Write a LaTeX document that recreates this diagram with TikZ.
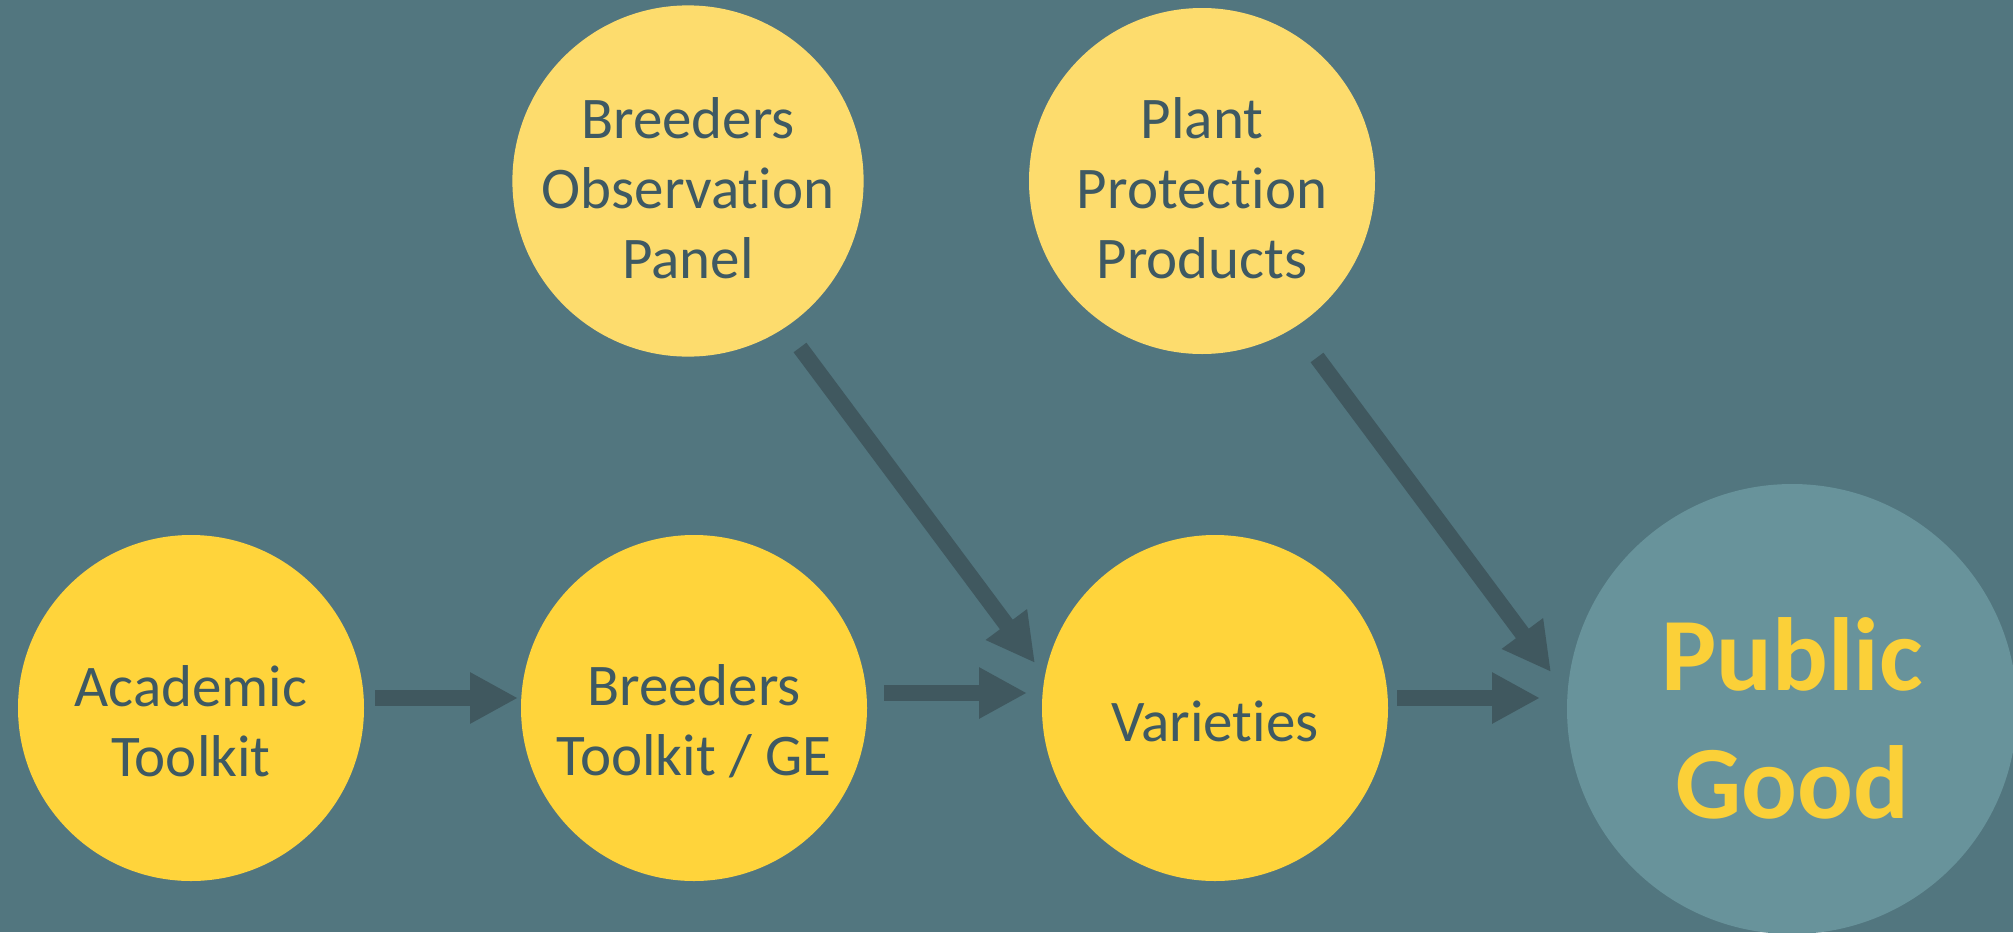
\documentclass[tikz,border=0pt]{standalone}
\usepackage{fontspec}
\setmainfont{Carlito}[Ligatures=NoCommon]
\usetikzlibrary{arrows.meta}
\definecolor{slate}{HTML}{52767F}
\definecolor{ink}{HTML}{3E5963}
\definecolor{shaft}{HTML}{40585F}
\definecolor{paleyellow}{HTML}{FDDC6D}
\definecolor{sunyellow}{HTML}{FFD43B}
\definecolor{goalteal}{HTML}{68939B}
\definecolor{goaltext}{HTML}{FBD038}
% raise the first line so the text sits a little lower in its circle
\newcommand{\lift}[1]{\rule{0pt}{#1}}
\begin{document}
\begin{tikzpicture}[x=0.5pt,y=-0.5pt,
	>={Triangle[length=24pt,width=24pt]},
	blob/.style={circle,minimum size=173pt,inner sep=0pt,align=center,
		text=ink,font=\fontsize{29.5}{35}\selectfont},
	input/.style={blob,fill=paleyellow},
	stage/.style={blob,fill=sunyellow},
	goal/.style={circle,minimum size=225pt,inner sep=0pt,align=center,
		fill=goalteal,text=goaltext,
		font=\fontsize{52}{64}\selectfont\bfseries},
	flow/.style={->,line width=8pt,color=shaft}]
\clip (0,0) rectangle (2013,932);
\fill[slate] (0,0) rectangle (2013,932);
% inputs on top
\node[input] (bop) at (688,181) {\lift{28pt}Breeders\\Observation\\Panel};
\node[input] (ppp) at (1202,181) {\lift{28pt}Plant\\Protection\\Products};
% main chain
\node[stage] (acad) at (191,708) {\lift{34pt}Academic\\Toolkit};
\node[stage] (btk) at (694,708) {\lift{34pt}Breeders\\Toolkit / GE};
\node[stage] (var) at (1215,708) {\lift{34pt}Varieties};
\node[goal] (pg) at (1792,709) {\lift{46pt}Public\\Good};
% arrows
\draw[flow] ([shift={(184,-10)}]acad.center)--([shift={(-176,-10)}]btk.center);
\draw[flow] ([shift={(190,-15)}]btk.center)--([shift={(-188,-15)}]var.center);
\draw[flow] ([shift={(182,-10)}]var.center)--([shift={(-252,-11)}]pg.center);
\draw[flow] ([shift={(112,166.5)}]bop.center)--([shift={(-180,-45)}]var.center);
\draw[flow] ([shift={(115,176.5)}]ppp.center)--([shift={(-241,-37)}]pg.center);
\end{tikzpicture}
\end{document}
